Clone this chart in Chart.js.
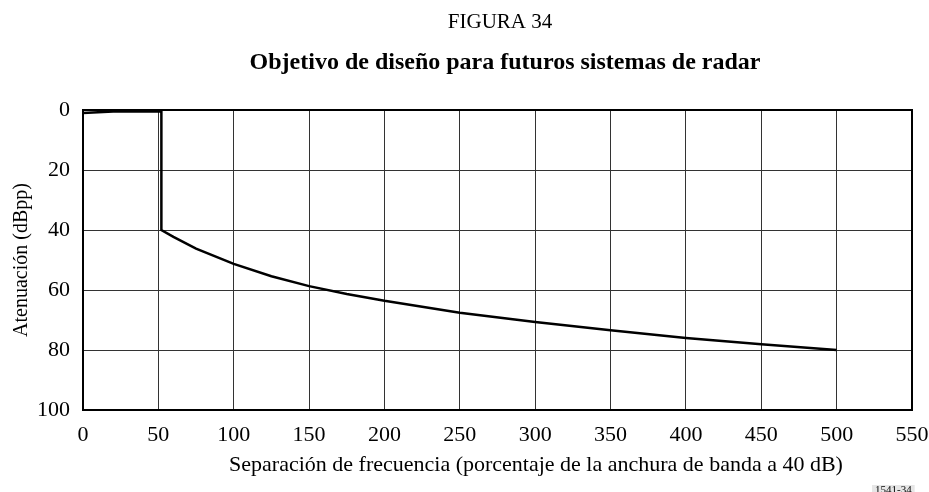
<!DOCTYPE html>
<html>
<head>
<meta charset="utf-8">
<script src="https://cdn.jsdelivr.net/npm/chart.js@4"></script>
<style>
  html, body { margin: 0; padding: 0; background: #fff; }
  canvas { display: block; }
</style>
</head>
<body>
<canvas id="c" width="929" height="492"></canvas>
<script>
// frequency separation (% of 40 dB bandwidth)
const sepX = [0, 20, 52, 52, 60, 75, 100, 125, 150, 175, 200, 250, 300, 350, 400, 450, 500];
// attenuation (dBpp)
const attY = [1, 0.5, 0.5, 40, 42.3, 46.2, 51.3, 55.4, 58.7, 61.3, 63.6, 67.6, 70.7, 73.4, 76, 78.1, 80];
const xTicks = [0, 50, 100, 150, 200, 250, 300, 350, 400, 450, 500, 550];
const yTicks = [0, 20, 40, 60, 80, 100];

const FONT = '"Liberation Serif", "Times New Roman", serif';

const headerPlugin = {
  id: 'header',
  afterDraw(chart) {
    const ctx = chart.ctx;
    const a = chart.chartArea;
    ctx.save();
    // frame around the plot
    ctx.strokeStyle = '#000';
    ctx.lineWidth = 2;
    ctx.strokeRect(a.left, a.top, a.right - a.left, a.bottom - a.top);

    ctx.fillStyle = '#000';
    ctx.textAlign = 'center';
    ctx.textBaseline = 'middle';
    ctx.font = '21px ' + FONT;
    ctx.fillText('FIGURA 34', 500, 22);
    ctx.font = 'bold 24px ' + FONT;
    ctx.fillText('Objetivo de diseño para futuros sistemas de radar', 505, 63);
    ctx.font = '22px ' + FONT;
    ctx.fillText('Separación de frecuencia (porcentaje de la anchura de banda a 40 dB)', 536, 465);
    // document reference tag
    ctx.font = '11px ' + FONT;
    const w = ctx.measureText('1541-34').width;
    ctx.fillStyle = '#e6e6e6';
    ctx.fillRect(872, 485, w + 6, 9);
    ctx.fillStyle = '#000';
    ctx.textAlign = 'left';
    ctx.fillText('1541-34', 875, 490);
    ctx.restore();
  }
};

new Chart(document.getElementById('c'), {
  type: 'scatter',
  data: {
    datasets: [{
      data: sepX.map((x, i) => ({ x, y: attY[i] })),
      showLine: true,
      borderColor: '#000',
      borderWidth: 2.5,
      pointRadius: 0,
      tension: 0
    }]
  },
  options: {
    responsive: false,
    animation: false,
    devicePixelRatio: 1,
    layout: { padding: { top: 110, right: 17, left: 10, bottom: 0 } },
    plugins: { legend: { display: false }, tooltip: { enabled: false } },
    scales: {
      x: {
        type: 'linear',
        min: xTicks[0], max: xTicks[xTicks.length - 1],
        afterFit(axis) { axis.height = 82; axis.paddingRight = 0; },
        grid: { color: '#333', lineWidth: 1, drawTicks: false },
        border: { color: '#000', width: 2 },
        ticks: { stepSize: 50, autoSkip: false, maxRotation: 0, color: '#000', padding: 12, font: { family: FONT, size: 22 } }
      },
      y: {
        type: 'linear',
        reverse: true,
        min: yTicks[0], max: yTicks[yTicks.length - 1],
        afterFit(axis) { axis.width = 73; },
        grid: { color: '#333', lineWidth: 1, drawTicks: false },
        border: { color: '#000', width: 2 },
        ticks: { stepSize: 20, autoSkip: false, color: '#000', padding: 13, font: { family: FONT, size: 22 } },
        title: {
          display: true,
          text: 'Atenuación (dBpp)',
          color: '#000',
          font: { family: FONT, size: 20 },
          padding: { top: 0, bottom: 0 }
        }
      }
    }
  },
  plugins: [headerPlugin]
});
</script>
</body>
</html>
